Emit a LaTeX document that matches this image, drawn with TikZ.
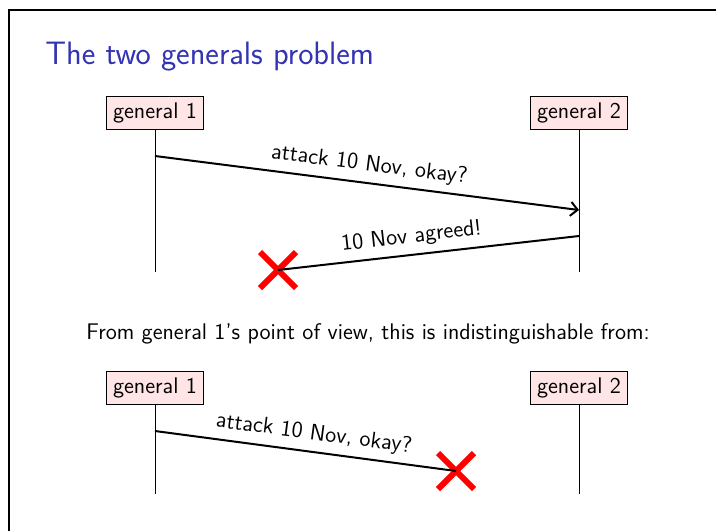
\documentclass[tikz,border=0pt]{standalone}
\usetikzlibrary{arrows.meta,shapes.misc}
\definecolor{titleblue}{RGB}{51,51,179}
\begin{document}
\begin{tikzpicture}[x=0.5pt,y=-0.5pt,font=\sffamily\fontsize{11.3}{13}\selectfont,
  party/.style={draw,fill=red!10,inner sep=3.1pt},
  msg/.style={line width=1pt},
  lost/.style={cross out,draw=red,line width=3pt,minimum size=15pt,inner sep=0pt},
  >=Straight Barb]
\useasboundingbox (0,0) rectangle (716,531);
\draw[line width=0.7pt] (9,531) -- (9,10) -- (716,10);
\node[anchor=base west,inner sep=0pt,text=titleblue,font=\sffamily\fontsize{16.2}{19}\selectfont] (title) at (45,64) {The two generals problem};
% first run: the reply is lost
\node[party] (g1) at (155,113) {general 1};
\node[party] (g2) at (579,113) {general 2};
\coordinate (g1end) at (155,272);
\coordinate (g2end) at (579,272);
\draw (g1) -- (g1end);
\draw (g2) -- (g2end);
\coordinate (ask) at (155,156);
\coordinate (askin) at (579,210);
\coordinate (reply) at (579,236);
\node[lost] (lost1) at (278,270) {};
\draw[msg,->] (ask) -- node[sloped,above] {attack 10 Nov, okay?} (askin);
\draw[msg] (reply) -- node[sloped,above,pos=0.55] {10 Nov agreed!} (lost1.center);
\node[anchor=base] (note) at (368,339) {From general 1's point of view, this is indistinguishable from:};
% second run: the request is lost
\node[party] (h1) at (155,388) {general 1};
\node[party] (h2) at (579,388) {general 2};
\coordinate (h1end) at (155,494);
\coordinate (h2end) at (579,494);
\draw (h1) -- (h1end);
\draw (h2) -- (h2end);
\coordinate (ask2) at (155,431);
\node[lost] (lost2) at (456,471) {};
\draw[msg] (ask2) -- node[sloped,above,pos=0.52] {attack 10 Nov, okay?} (lost2.center);
\end{tikzpicture}
\end{document}
